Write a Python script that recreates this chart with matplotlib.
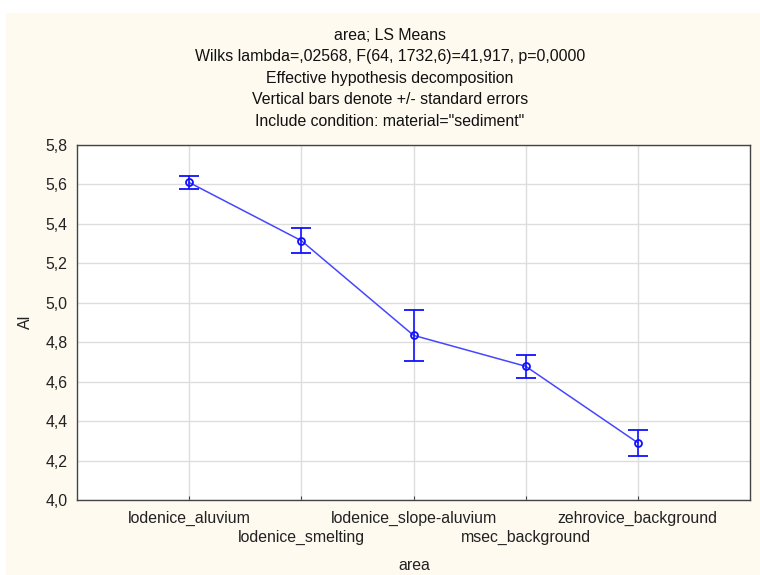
import matplotlib.pyplot as plt
from matplotlib.patches import Rectangle

areas = ["lodenice_aluvium", "lodenice_smelting", "lodenice_slope-aluvium",
         "msec_background", "zehrovice_background"]
al_means = [5.61, 5.315, 4.835, 4.678, 4.29]
al_se = [0.035, 0.065, 0.13, 0.057, 0.066]

title_lines = [
    "area; LS Means",
    "Wilks lambda=,02568, F(64, 1732,6)=41,917, p=0,0000",
    "Effective hypothesis decomposition",
    "Vertical bars denote +/- standard errors",
    'Include condition: material="sediment"',
]

plt.rcParams["font.family"] = ["Liberation Sans", "DejaVu Sans"]
fs = 11.4

fig = plt.figure(figsize=(7.6, 5.75), dpi=100, facecolor="white")
fig.patches.append(Rectangle((6 / 760, 0), 1, 1 - 13 / 575, transform=fig.transFigure,
                             facecolor="#fefaf0", edgecolor="none", zorder=-10))

ax = fig.add_axes([77 / 760, 75 / 575, 673 / 760, 355 / 575])
ax.set_facecolor("white")

x = list(range(len(areas)))
ax.plot(x, al_means, color="#4646ff", lw=1.1, zorder=3)
ax.errorbar(x, al_means, yerr=al_se, fmt="o", ms=5, mfc="none", mec="#1010ff",
            mew=1.3, ecolor="#1010ff", elinewidth=1.2, capsize=7, capthick=1.2, zorder=4)

ax.set_xlim(-1, 5)
ax.set_ylim(4.0, 5.8)
ax.set_yticks([4.0 + 0.2 * i for i in range(10)])
ax.set_yticklabels([f"{4.0 + 0.2 * i:.1f}".replace(".", ",") for i in range(10)])
ax.set_xticks(x)
ax.set_xticklabels([])
for i, name in enumerate(areas):
    off = 0 if i % 2 == 0 else -19
    ax.annotate(name, (i, 0), xycoords=("data", "axes fraction"), xytext=(0, -18 + off),
                textcoords="offset pixels", ha="center", va="center", fontsize=fs,
                color="#222222")

ax.grid(True, color="#dddddd", lw=1)
ax.set_axisbelow(True)
for s in ax.spines.values():
    s.set_color("#444444")
    s.set_linewidth(1)
ax.tick_params(axis="x", direction="in", length=3, color="#444444")
ax.tick_params(axis="y", length=0, pad=7, labelsize=fs, labelcolor="#222222")

fig.text(25 / 760, 1 - 322 / 575, "Al", rotation=90, ha="center", va="center",
         fontsize=fs, color="#222222")
fig.text(414 / 760, 1 - 565 / 575, "area", ha="center", va="center",
         fontsize=fs, color="#222222")

for i, line in enumerate(title_lines):
    fig.text(390 / 760, 1 - (35 + 21.5 * i) / 575, line, ha="center", va="center",
             fontsize=fs, color="#111111")

fig.savefig("out.png", dpi=100, facecolor=fig.get_facecolor())
